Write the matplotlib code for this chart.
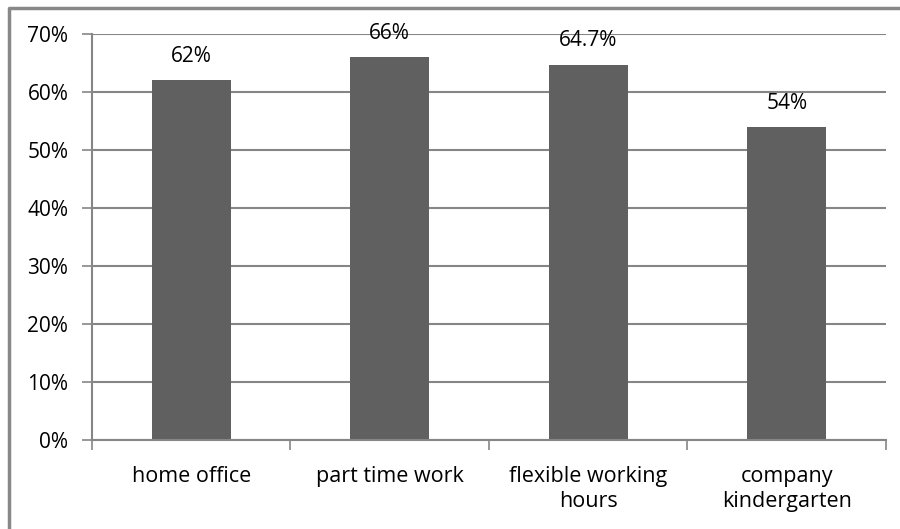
import matplotlib
matplotlib.use("Agg")
import matplotlib.pyplot as plt
from matplotlib.lines import Line2D
from matplotlib.ticker import PercentFormatter

categories = ["home office", "part time work", "flexible working\nhours", "company\nkindergarten"]
values = [62, 66, 64.7, 54]
value_labels = ["62%", "66%", "64.7%", "54%"]

plt.rcParams["font.family"] = ["Open Sans", "DejaVu Sans"]

fig = plt.figure(figsize=(9, 5.29), dpi=100)
ax = fig.add_axes([0.1022, 0.1682, 0.8822, 0.7675])

x = range(len(categories))
bars = ax.bar(x, values, width=0.4, color="#606060", zorder=2)

for rect, lab in zip(bars, value_labels):
    ax.text(rect.get_x() + rect.get_width() / 2, rect.get_height() + 4.1, lab,
            ha="center", va="center", fontsize=15, color="black", zorder=3)

ax.set_xlim(-0.5, len(categories) - 0.5)
ax.set_ylim(0, 70)
ax.set_yticks(range(0, 71, 10))
ax.yaxis.set_major_formatter(PercentFormatter(decimals=0))
ax.grid(axis="y", color="#868686", linewidth=1.5, zorder=1)

ax.set_xticks([i - 0.5 for i in range(len(categories) + 1)])
ax.set_xticklabels([])
ax.set_xticks(list(x), minor=True)
ax.set_xticklabels(categories, minor=True, fontsize=15.5, linespacing=1.25)
ax.tick_params(axis="x", which="minor", length=0, pad=19)
ax.tick_params(axis="x", which="major", length=7, color="#868686", width=1.2)
ax.tick_params(axis="y", length=7, color="#868686", width=1.2, pad=10, labelsize=15)

for side in ["top", "right"]:
    ax.spines[side].set_visible(False)
ax.spines["left"].set_color("#868686")
ax.spines["bottom"].set_color("#868686")
ax.spines["left"].set_linewidth(1.5)
ax.spines["bottom"].set_linewidth(1.5)

# chart frame: only the left and top edges show
fig.add_artist(Line2D([0.0105, 0.0105, 1.0], [0.0, 0.985, 0.985], color="#888888",
                      linewidth=2.5, transform=fig.transFigure))

fig.savefig("out.png", dpi=100)
